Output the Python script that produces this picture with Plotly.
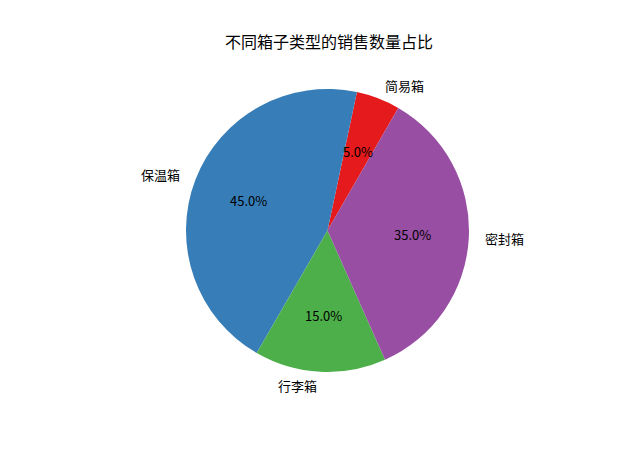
import math
import plotly.graph_objects as go

# 箱子类型及销售数量占比
box_types = ["简易箱", "保温箱", "行李箱", "密封箱"]
sales_share = [5, 45, 15, 35]
colors = ["#e41a1c", "#377eb8", "#4daf4a", "#984ea3"]

font_name = "Noto Sans CJK SC"
W, H = 640, 459
cx_px, cy_px, r_px = 327.5, 230.5, 141.5
start_angle = 60  # matplotlib style startangle, counterclockwise

fig = go.Figure()

# plotly's counterclockwise pie ends the first slice at `rotation`,
# so shift by the first slice to start it at start_angle
first_deg = 360 * sales_share[0] / sum(sales_share)
fig.add_trace(go.Pie(
    labels=box_types, values=sales_share, sort=False,
    direction="counterclockwise", rotation=90 - start_angle - first_deg,
    marker=dict(colors=colors, line=dict(width=0)),
    textinfo="none",
    domain=dict(x=[(cx_px - r_px) / W, (cx_px + r_px) / W],
                y=[(H - cy_px - r_px) / H, (H - cy_px + r_px) / H]),
    showlegend=False, hoverinfo="label+percent",
))

# labels at 1.1 r and percentages at 0.6 r, like matplotlib autopct
total = sum(sales_share)
angle = start_angle
for name, val in zip(box_types, sales_share):
    span = 360 * val / total
    mid = math.radians(angle + span / 2)
    angle += span
    c, s = math.cos(mid), math.sin(mid)
    fig.add_annotation(
        x=(cx_px + 1.1 * r_px * c) / W, y=(H - cy_px + 1.1 * r_px * s) / H,
        xref="paper", yref="paper", text=name, showarrow=False,
        xanchor="left" if c > 0 else "right", yanchor="middle",
        font=dict(family=font_name, size=13, color="black"),
    )
    fig.add_annotation(
        x=(cx_px + 0.6 * r_px * c) / W, y=(H - cy_px + 0.6 * r_px * s) / H,
        xref="paper", yref="paper", text=f"{100 * val / total:.1f}%", showarrow=False,
        xanchor="center", yanchor="middle",
        font=dict(family=font_name, size=13, color="black"),
    )

fig.update_layout(
    title=dict(text="不同箱子类型的销售数量占比", x=329 / W, xanchor="center",
               y=1 - 42 / H, yanchor="middle",
               font=dict(family=font_name, size=16, color="black")),
    width=W, height=H,
    margin=dict(l=0, r=0, t=0, b=0),
    paper_bgcolor="white",
    font=dict(family=font_name),
)

# drop the browser's default body margin so the figure sits at 0,0
fig.write_html("out.html", config={"displayModeBar": False},
               post_script="document.body.style.margin='0';")
